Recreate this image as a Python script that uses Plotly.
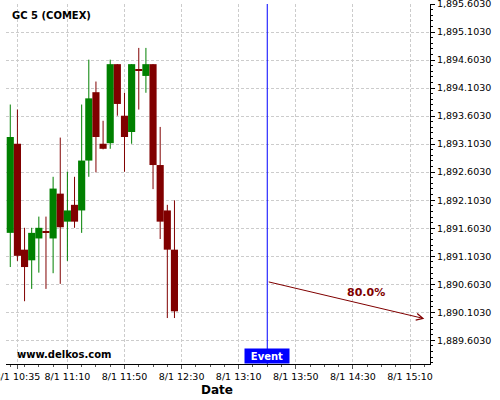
import plotly.graph_objects as go

# ---- data ----
times = ["2023-08-01 10:30", "2023-08-01 10:35", "2023-08-01 10:40", "2023-08-01 10:45",
         "2023-08-01 10:50", "2023-08-01 10:55", "2023-08-01 11:00", "2023-08-01 11:05",
         "2023-08-01 11:10", "2023-08-01 11:15", "2023-08-01 11:20", "2023-08-01 11:25",
         "2023-08-01 11:30", "2023-08-01 11:35", "2023-08-01 11:40", "2023-08-01 11:45",
         "2023-08-01 11:50", "2023-08-01 11:55", "2023-08-01 12:00", "2023-08-01 12:05",
         "2023-08-01 12:10", "2023-08-01 12:15", "2023-08-01 12:20", "2023-08-01 12:25"]
opens = [1891.52, 1893.11, 1891.22, 1891.03, 1891.42, 1891.55, 1891.42, 1892.22,
         1891.72, 1892.02, 1891.92, 1892.81, 1894.03, 1893.11, 1893.12, 1894.53,
         1893.61, 1893.32, 1894.44, 1894.32, 1894.53, 1892.73, 1891.92, 1891.22]
closes = [1893.23, 1891.11, 1890.91, 1891.52, 1891.61, 1891.52, 1892.31, 1891.62,
          1891.92, 1891.72, 1892.81, 1893.92, 1893.23, 1893.02, 1894.53, 1893.82,
          1893.23, 1894.53, 1894.42, 1894.53, 1892.73, 1891.72, 1891.22, 1890.12]
highs = [1893.81, 1893.72, 1891.61, 1891.61, 1891.81, 1891.81, 1892.52, 1893.22,
         1892.61, 1892.52, 1893.81, 1894.61, 1894.22, 1893.52, 1894.61, 1894.53,
         1894.02, 1894.53, 1894.82, 1894.82, 1894.53, 1893.41, 1892.02, 1892.10]
lows = [1890.91, 1891.02, 1890.30, 1890.52, 1890.81, 1890.52, 1890.80, 1890.61,
        1891.02, 1891.61, 1891.52, 1892.52, 1892.60, 1893.01, 1893.02, 1893.61,
        1892.61, 1893.11, 1893.72, 1894.02, 1892.30, 1891.41, 1890.00, 1890.00]

event_time = "2023-08-01 13:30"
arrow_start_price = 1890.651
arrow_end_time = "2023-08-01 15:20"
arrow_end_price = 1889.989
probability_label = "80.0%"

x_tickvals = ["2023-08-01 10:35", "2023-08-01 11:10", "2023-08-01 11:50", "2023-08-01 12:30",
              "2023-08-01 13:10", "2023-08-01 13:50", "2023-08-01 14:30", "2023-08-01 15:10"]
x_ticktext = ["8/1 10:35", "8/1 11:10", "8/1 11:50", "8/1 12:30",
              "8/1 13:10", "8/1 13:50", "8/1 14:30", "8/1 15:10"]

GREEN = "#008000"
RED = "#800000"

is_up = [c >= o for o, c in zip(opens, closes)]
body_base = [min(o, c) for o, c in zip(opens, closes)]
body_h = [abs(c - o) for o, c in zip(opens, closes)]
body_col = [GREEN if u else RED for u in is_up]

fig = go.Figure()

# wicks
for up, col in [(True, GREEN), (False, RED)]:
    wx, wy = [], []
    for t, h, l, u in zip(times, highs, lows, is_up):
        if u == up:
            wx += [t, t, None]
            wy += [l, h, None]
    fig.add_trace(go.Scatter(x=wx, y=wy, mode="lines", line=dict(color=col, width=1),
                             showlegend=False, hoverinfo="skip"))

# bodies
fig.add_trace(go.Bar(x=times, y=body_h, base=body_base, width=300000,
                     marker=dict(color=body_col, line=dict(width=0)),
                     showlegend=False))

# event line
fig.add_shape(type="line", xref="x", yref="paper", x0=event_time, x1=event_time,
              y0=0, y1=1, line=dict(color="#0000ff", width=1))

grid = "#cccccc"
fig.update_layout(
    width=500, height=400,
    margin=dict(l=6, r=70, t=4, b=36, autoexpand=False),
    paper_bgcolor="white", plot_bgcolor="white",
    font=dict(family="DejaVu Sans", color="black"),
    barmode="overlay",
    showlegend=False,
    xaxis=dict(
        type="date", automargin=False, ticklabeloverflow="allow",
        range=["2023-08-01 10:27:00", "2023-08-01 15:24:00"],
        tickmode="array", tickvals=x_tickvals, ticktext=x_ticktext,
        ticks="outside", ticklen=4, tickcolor="#555555",
        tickfont=dict(size=9.5, family="DejaVu Sans"),
        showline=True, linecolor="black", linewidth=1,
        showgrid=True, gridcolor=grid, griddash="3px,2px", gridwidth=1,
        zeroline=False,
        minor=dict(ticks="outside", ticklen=2, tickmode="linear", dtick=600000,
                   tick0="2023-08-01 10:30", tickcolor="#555555", showgrid=False),
    ),
    yaxis=dict(
        side="right", automargin=False, ticklabeloverflow="allow",
        range=[1889.18, 1895.6035],
        tickmode="linear", tick0=1889.603, dtick=0.5,
        tickformat=",.4f",
        ticks="outside", ticklen=4, tickcolor="black",
        tickfont=dict(size=9.5, family="DejaVu Sans"),
        showline=True, linecolor="black", linewidth=1,
        showgrid=True, gridcolor=grid, griddash="3px,2px", gridwidth=1,
        zeroline=False,
        minor=dict(ticks="outside", ticklen=2, tickmode="linear", dtick=0.1,
                   tick0=1889.603, tickcolor="black", showgrid=False),
    ),
)

PW, PH, ML, MT = 424, 360, 6, 4

def px_x(px):
    return (px - ML) / PW

def px_y(py):
    return 1 - (py - MT) / PH

annotations = [
    dict(text="<b>GC 5 (COMEX)</b>", xref="paper", yref="paper",
         x=px_x(10), y=px_y(15.5), xanchor="left", yanchor="middle",
         showarrow=False, font=dict(size=10, family="DejaVu Sans", color="black")),
    dict(text="<b>www.delkos.com</b>", xref="paper", yref="paper",
         x=px_x(15), y=px_y(354), xanchor="left", yanchor="middle",
         showarrow=False, font=dict(size=10, family="DejaVu Sans", color="black")),
    dict(text="<b>Date</b>", xref="paper", yref="paper",
         x=px_x(217), y=px_y(389.5), xanchor="center", yanchor="middle",
         showarrow=False, font=dict(size=12, family="DejaVu Sans", color="black")),
    dict(text="<b>Event</b>", xref="x", yref="paper", x=event_time, y=0,
         xanchor="center", yanchor="bottom", showarrow=False,
         bgcolor="#0000ff", width=44, height=14, borderpad=0,
         font=dict(size=10, family="DejaVu Sans", color="white")),
    dict(text="", x=arrow_end_time, y=arrow_end_price, xref="x", yref="y",
         ax=event_time, ay=arrow_start_price, axref="x", ayref="y",
         showarrow=True, arrowhead=5, arrowsize=1.3, arrowwidth=1, arrowcolor=RED),
    dict(text="<b>" + probability_label + "</b>", xref="paper", yref="paper",
         x=px_x(366), y=px_y(292.7), xanchor="center", yanchor="middle",
         showarrow=False, font=dict(size=11, family="DejaVu Sans", color=RED)),
]
fig.update_layout(annotations=annotations)

fig.write_html(
    "out.html",
    config={"displayModeBar": False},
    post_script="document.body.style.margin='0';document.body.style.overflow='hidden';",
)
